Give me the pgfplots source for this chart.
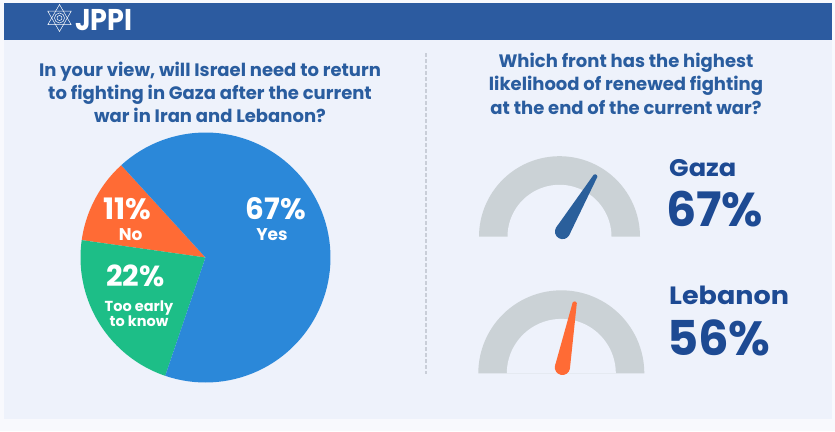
\documentclass[border=0pt]{standalone}
\usepackage{fontspec}
\setmainfont{Poppins}
\usepackage{pgfplots}
\pgfplotsset{compat=1.18}
\usepackage{pgfplotstable}
\usepackage{graphicx}
\definecolor{hdr}{HTML}{2C5BA0}
\definecolor{panel}{HTML}{EEF2FB}
\definecolor{outerbg}{HTML}{F8F9FD}
\definecolor{ttl}{HTML}{2A5D9F}
\definecolor{pieblue}{HTML}{2B88D9}
\definecolor{pieorange}{HTML}{FF6B35}
\definecolor{piegreen}{HTML}{1DBE87}
\definecolor{gaugegray}{HTML}{CBD2D6}
\definecolor{needleblue}{HTML}{2A5F9B}
\definecolor{bigtext}{HTML}{1D4A93}
\definecolor{divgray}{HTML}{C9CED8}

% survey values (percent)
\pgfplotstableread{
label value
No 11
Early 22
Yes 67
}\piedata
\pgfplotstableread{
front value
Gaza 67
Lebanon 56
}\gaugedata

\pgfmathsetmacro\angGaza{180-1.8*67}
\pgfmathsetmacro\angLeb{180-1.8*56}

\newcommand\fs[1]{\fontsize{#1}{#1}\selectfont\bfseries}

\begin{document}
\begin{tikzpicture}
\begin{axis}[width=835pt, height=431pt, scale only axis,
  xmin=0, xmax=835, ymin=0, ymax=431, y dir=reverse,
  hide axis, clip=false]
% backgrounds
\addplot[fill=outerbg, draw=none] coordinates {(0,0) (835,0) (835,431) (0,431)} -- cycle;
\addplot[fill=panel, draw=none] coordinates {(4,40) (832,40) (832,419) (4,419)} -- cycle;
\addplot[fill=hdr, draw=none] coordinates {(4,2.5) (832,2.5) (832,40) (4,40)} -- cycle;
% divider
\draw[dash pattern=on 4pt off 2pt, line width=1.6pt, divgray] (axis cs:426,53) -- (axis cs:426,374);
% pie: No 11, Too early 22, Yes 67 (counterclockwise from 132.4 deg)
\addplot[fill=pieorange, draw=none, domain=0:3.6*11, samples=30, variable=\t]
  ({205.5+125*cos(132.4+\t)}, {257.5-125*sin(132.4+\t)}) -- (axis cs:205.5,257.5) -- cycle;
\addplot[fill=piegreen, draw=none, domain=0:3.6*22, samples=40, variable=\t]
  ({205.5+125*cos(132.4+3.6*11+\t)}, {257.5-125*sin(132.4+3.6*11+\t)}) -- (axis cs:205.5,257.5) -- cycle;
\addplot[fill=pieblue, draw=none, domain=0:3.6*67, samples=90, variable=\t]
  ({205.5+125*cos(132.4+3.6*33+\t)}, {257.5-125*sin(132.4+3.6*33+\t)}) -- (axis cs:205.5,257.5) -- cycle;
% gauges
\addplot[fill=gaugegray, draw=none, domain=0:180, samples=60, variable=\t]
  ({559.5+80.5*cos(\t)}, {236.7-80.5*sin(\t)}) -- (axis cs:507.5,236.7) -- (axis cs:611.5,236.7) -- cycle;
\addplot[fill=gaugegray, draw=none, domain=0:180, samples=60, variable=\t]
  ({561.3+83*cos(\t)}, {373.3-83*sin(\t)}) -- (axis cs:506.8,373.3) -- (axis cs:615.8,373.3) -- cycle;
\addplot[fill=panel, draw=none, domain=0:180, samples=60, variable=\t]
  ({559.5+52*cos(\t)}, {236.8-52*sin(\t)}) -- cycle;
\addplot[fill=panel, draw=none, domain=0:180, samples=60, variable=\t]
  ({561.3+54.5*cos(\t)}, {373.4-54.5*sin(\t)}) -- cycle;
\coordinate (g1) at (axis cs:559.5,236.7);
\coordinate (g2) at (axis cs:561.3,373.3);
\coordinate (star) at (axis cs:59.5,18);
% header text
\node[anchor=base west, inner sep=0, white] at (axis cs:75,30) {\scalebox{0.9}[1]{\fs{30}JPPI}};
% left title
\node[anchor=base, inner sep=0, ttl] at (axis cs:210,76.7) {\fs{18}In your view, will Israel need to return};
\node[anchor=base, inner sep=0, ttl] at (axis cs:210,99.5) {\fs{18}to fighting in Gaza after the current};
\node[anchor=base, inner sep=0, ttl] at (axis cs:210,122.7) {\fs{18}war in Iran and Lebanon?};
% right title
\node[anchor=base, inner sep=0, ttl] at (axis cs:626,67.7) {\fs{18}Which front has the highest};
\node[anchor=base, inner sep=0, ttl] at (axis cs:626,90.7) {\fs{18}likelihood of renewed fighting};
\node[anchor=base, inner sep=0, ttl] at (axis cs:626,114) {\fs{18}at the end of the current war?};
% pie labels
\node[anchor=base, inner sep=0, white] at (axis cs:275.8,219) {\fs{29.5}67\%};
\node[anchor=base, inner sep=0, white] at (axis cs:272,240) {\fs{17}Yes};
\node[anchor=base, inner sep=0, white] at (axis cs:127.5,219) {\fs{29.5}11\%};
\node[anchor=base, inner sep=0, white] at (axis cs:130.7,240) {\fs{17}No};
\node[anchor=base, inner sep=0, white] at (axis cs:135.5,286.7) {\fs{29}22\%};
\node[anchor=base, inner sep=0, white] at (axis cs:139,311.7) {\fs{14.5}Too early};
\node[anchor=base, inner sep=0, white] at (axis cs:139,326.7) {\fs{14.5}to know};
% gauge labels
\node[anchor=base west, inner sep=0, bigtext] at (axis cs:669,176.7) {\scalebox{1.07}[1]{\fs{24}Gaza}};
\node[anchor=base west, inner sep=0, bigtext] at (axis cs:666,226) {\fs{47.5}67\%};
\node[anchor=base west, inner sep=0, bigtext] at (axis cs:669,304) {\scalebox{1.08}[1]{\fs{25}Lebanon}};
\node[anchor=base west, inner sep=0, bigtext] at (axis cs:667,355) {\fs{48}56\%};
\end{axis}
% needles
\begin{scope}[shift={(g1)}, rotate=\angGaza]
  \fill[needleblue] (6pt,0) circle[radius=7.6pt];
  \fill[needleblue, rounded corners=1.2pt] (6pt,7.6pt) -- (72pt,2pt) -- (72pt,-2pt) -- (6pt,-7.6pt) -- cycle;
\end{scope}
\begin{scope}[shift={(g2)}, rotate=\angLeb]
  \fill[pieorange] (6pt,0) circle[radius=7.6pt];
  \fill[pieorange, rounded corners=1.2pt] (6pt,7.6pt) -- (73pt,2pt) -- (73pt,-2pt) -- (6pt,-7.6pt) -- cycle;
\end{scope}
% logo star
\begin{scope}[shift={(star)}, white, line width=0.5pt]
  \draw (90:13.5pt) -- (210:13.5pt) -- (330:13.5pt) -- cycle;
  \draw (270:13.5pt) -- (30:13.5pt) -- (150:13.5pt) -- cycle;
  \draw (0,0) circle[radius=5pt];
  \draw (0,0) circle[radius=2.5pt];
\end{scope}
\end{tikzpicture}
\end{document}
